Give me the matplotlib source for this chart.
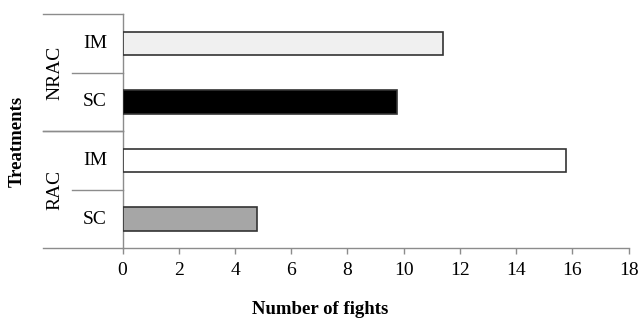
import matplotlib
matplotlib.use('Agg')
import matplotlib.pyplot as plt
import numpy as np
from matplotlib import rcParams
from matplotlib.transforms import blended_transform_factory

# data, bottom to top
groups = ['RAC', 'NRAC']
subgroups = ['SC', 'IM']
values = [4.77, 15.77, 9.75, 11.41]  # RAC SC, RAC IM, NRAC SC, NRAC IM
bar_colors = ['#a6a6a6', '#ffffff', '#000000', '#f0f0f0']
x_ticks = list(range(0, 19, 2))

rcParams.update({
    'font.family': ['Liberation Serif', 'DejaVu Serif'],
    'font.size': 14,
})

fig = plt.figure(figsize=(6.4, 3.18), dpi=100)
ax = fig.add_axes([0.1916, 0.219, 0.7905, 0.737])

grey = '#8c8c8c'
y = np.arange(len(values))
ax.barh(y, values, height=0.4, color=bar_colors, edgecolor='#333333', linewidth=1.2, zorder=3)

ax.set_xlim(0, 18)
ax.set_ylim(-0.5, len(values) - 0.5)
ax.set_xticks(x_ticks)
ax.set_yticks([])
ax.tick_params(axis='x', direction='out', length=4, color=grey, width=1, labelsize=14, pad=6)

for s in ['top', 'right']:
    ax.spines[s].set_visible(False)
for s in ['left', 'bottom']:
    ax.spines[s].set_color(grey)
    ax.spines[s].set_linewidth(1)

# category labels and separator lines in the left margin
trans = blended_transform_factory(ax.transAxes, ax.transData)
n_sub = len(subgroups)
for gi, g in enumerate(groups):
    lo = gi * n_sub - 0.5
    hi = lo + n_sub
    ax.plot([-0.157, 0], [lo, lo], transform=trans, color=grey, lw=1, clip_on=False)
    ax.plot([-0.157, 0], [hi, hi], transform=trans, color=grey, lw=1, clip_on=False)
    ax.text(-0.1336, (lo + hi) / 2, g, transform=trans, rotation=90,
            ha='center', va='center', fontsize=14)
    for si, s in enumerate(subgroups):
        yc = gi * n_sub + si
        ax.text(-0.0546, yc, s, transform=trans, ha='center', va='center', fontsize=14)
        if si > 0:
            ax.plot([-0.100, 0], [yc - 0.5, yc - 0.5], transform=trans,
                    color=grey, lw=1, clip_on=False)

fig.text(0.027, 0.554, 'Treatments', rotation=90, ha='center', va='center',
         fontsize=13.5, fontweight='bold')
fig.text(0.5, 1 - 309 / 318, 'Number of fights',
         ha='center', va='center', fontsize=13.5, fontweight='bold')

plt.savefig('out.png', dpi=100)
